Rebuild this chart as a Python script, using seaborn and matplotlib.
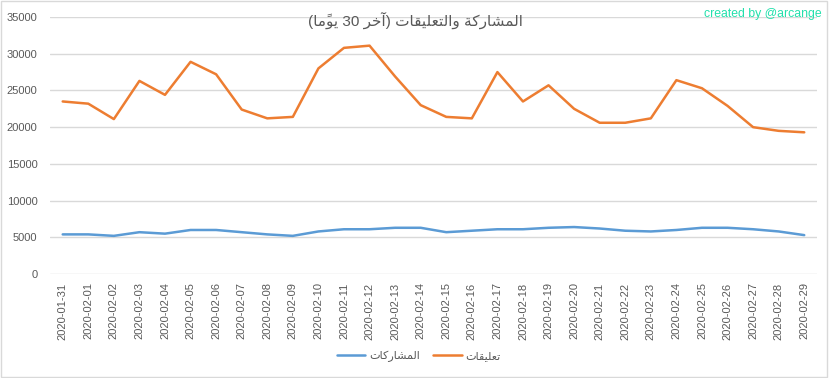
import re
import matplotlib
matplotlib.use("Agg")
import matplotlib.pyplot as plt
from matplotlib.lines import Line2D
from matplotlib.patches import Rectangle
import pandas as pd
import seaborn as sns

# 数据：日期、帖子数、评论数
dates = [
    "2020-01-31", "2020-02-01", "2020-02-02", "2020-02-03", "2020-02-04",
    "2020-02-05", "2020-02-06", "2020-02-07", "2020-02-08", "2020-02-09",
    "2020-02-10", "2020-02-11", "2020-02-12", "2020-02-13", "2020-02-14",
    "2020-02-15", "2020-02-16", "2020-02-17", "2020-02-18", "2020-02-19",
    "2020-02-20", "2020-02-21", "2020-02-22", "2020-02-23", "2020-02-24",
    "2020-02-25", "2020-02-26", "2020-02-27", "2020-02-28", "2020-02-29",
]
posts = [
    5400, 5400, 5200, 5700, 5500, 6000, 6000, 5700, 5400, 5200,
    5800, 6100, 6100, 6300, 6300, 5700, 5900, 6100, 6100, 6300,
    6400, 6200, 5900, 5800, 6000, 6300, 6300, 6100, 5800, 5300,
]
comments = [
    23500, 23200, 21100, 26300, 24400, 28900, 27200, 22400, 21200, 21400,
    28000, 30800, 31100, 26900, 23000, 21400, 21200, 27500, 23500, 25700,
    22500, 20600, 20600, 21200, 26400, 25300, 22900, 20000, 19500, 19300,
]
series_names = ["المشاركات", "تعليقات"]
title_text = "المشاركة والتعليقات (آخر 30 يومًا)"
credit_text = "created by @arcange"

# 阿拉伯字母的连写形式：独立、词尾、词首、词中
FORMS = {
    "ا": ("\uFE8D", "\uFE8E", None, None),
    "آ": ("\uFE81", "\uFE82", None, None),
    "ة": ("\uFE93", "\uFE94", None, None),
    "ت": ("\uFE95", "\uFE96", "\uFE97", "\uFE98"),
    "خ": ("\uFEA5", "\uFEA6", "\uFEA7", "\uFEA8"),
    "ر": ("\uFEAD", "\uFEAE", None, None),
    "ش": ("\uFEB5", "\uFEB6", "\uFEB7", "\uFEB8"),
    "ع": ("\uFEC9", "\uFECA", "\uFECB", "\uFECC"),
    "ق": ("\uFED5", "\uFED6", "\uFED7", "\uFED8"),
    "ك": ("\uFED9", "\uFEDA", "\uFEDB", "\uFEDC"),
    "ل": ("\uFEDD", "\uFEDE", "\uFEDF", "\uFEE0"),
    "م": ("\uFEE1", "\uFEE2", "\uFEE3", "\uFEE4"),
    "و": ("\uFEED", "\uFEEE", None, None),
    "ي": ("\uFEF1", "\uFEF2", "\uFEF3", "\uFEF4"),
}
MARKS = {"\u064B"}


def rtl(text):
    """matplotlib 不做阿拉伯文字整形，这里手动连写并转成视觉顺序"""
    chars = list(text)
    clusters = []
    for i, c in enumerate(chars):
        if c in MARKS:
            clusters[-1] += c
            continue
        if c not in FORMS:
            clusters.append(c)
            continue
        j = i - 1
        while j >= 0 and chars[j] in MARKS:
            j -= 1
        k = i + 1
        while k < len(chars) and chars[k] in MARKS:
            k += 1
        prev_joins = j >= 0 and chars[j] in FORMS and FORMS[chars[j]][2] is not None
        next_joins = k < len(chars) and chars[k] in FORMS
        iso, fin, ini, med = FORMS[c]
        if ini is None:
            next_joins = False
        if prev_joins and next_joins:
            clusters.append(med)
        elif prev_joins:
            clusters.append(fin)
        elif next_joins:
            clusters.append(ini)
        else:
            clusters.append(iso)
    s = "".join(clusters[::-1])
    s = re.sub(r"[0-9]+", lambda m: m.group()[::-1], s)
    return s.translate(str.maketrans("()", ")("))


# 设置绘图风格
sns.set_theme(style="white")
plt.rcParams["font.family"] = ["Liberation Sans", "DejaVu Sans"]

colors = {series_names[0]: "#5b9bd5", series_names[1]: "#ed7d31"}
text_gray = "#595959"

df = pd.DataFrame({
    "date": dates * 2,
    "value": posts + comments,
    "series": [series_names[0]] * len(dates) + [series_names[1]] * len(dates),
})

fig = plt.figure(figsize=(8.32, 3.78), dpi=100)
ax = fig.add_axes([0.060, 0.275, 0.922, 0.680])

sns.lineplot(data=df, x="date", y="value", hue="series", palette=colors,
             linewidth=1.8, ax=ax, legend=False, sort=False)

ax.set_xlim(-0.5, len(dates) - 0.5)
ax.set_ylim(0, 35000)
ax.set_yticks(range(0, 35001, 5000))
ax.yaxis.grid(True, color="#d9d9d9", linewidth=1)
ax.set_axisbelow(True)
for sp in ax.spines.values():
    sp.set_visible(False)
ax.set_xlabel("")
ax.set_ylabel("")
ax.tick_params(axis="x", labelrotation=90, labelsize=8, colors=text_gray, length=0, pad=6)
ax.tick_params(axis="y", labelsize=8, colors=text_gray, length=0, pad=9)

# 标题与署名
fig.text(0.499, 0.947, rtl(title_text), ha="center", va="center", fontsize=11, color=text_gray)
fig.text(0.988, 0.962, credit_text, ha="right", va="center", fontsize=8.8, color="#22e0ac")

# 图例放在底部中间
handles = [Line2D([], [], color=colors[n], linewidth=1.8) for n in series_names]
fig.legend(handles, [rtl(n) for n in series_names], loc="center",
           bbox_to_anchor=(0.503, 0.058), ncol=2, frameon=False, fontsize=8,
           handlelength=2.6, handletextpad=0.3, columnspacing=1.2, labelcolor=text_gray)

# 图表外框
fig.add_artist(Rectangle((0.001, 0.003), 0.993, 0.994, transform=fig.transFigure,
                         fill=False, edgecolor="#d9d9d9", linewidth=1))

fig.savefig("out.png", dpi=100)
plt.close(fig)
